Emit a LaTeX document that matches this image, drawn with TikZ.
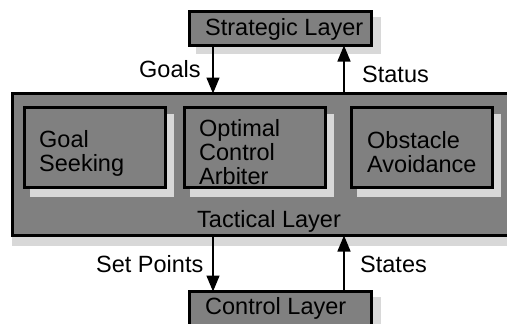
\documentclass[tikz,border=0pt]{standalone}
\usepackage{fontspec}
\setmainfont{Liberation Sans}
\usetikzlibrary{arrows.meta}
\definecolor{boxgray}{RGB}{128,128,128}
\definecolor{shadowgray}{RGB}{216,216,216}
\begin{document}
\begin{tikzpicture}[x=1pt,y=-1pt,
  box/.style={draw=black,line width=3pt,fill=boxgray,inner sep=0pt,outer sep=0pt},
  shade/.style={fill=shadowgray},
  txt/.style={font=\fontsize{23.5}{24}\selectfont,inner sep=0pt,anchor=base west,align=left},
  arr/.style={line width=1.5pt,-{Triangle[length=16pt,width=13pt]}}]
\useasboundingbox (0,0) rectangle (507,324);
% shadows
\fill[shade] (196,17) rectangle (381,54);
\fill[shade] (196,297) rectangle (381,334);
\fill[shade] (12,101) rectangle (545,246);
% layer boxes
\node[box,minimum width=182pt,minimum height=34pt] (strat) at (280.5,28.5) {};
\node[box,minimum width=182pt,minimum height=34pt] (ctrl) at (280.5,308.5) {};
\node[box,minimum width=527.5pt,minimum height=142pt] (tact) at (276.25,164.5) {};
% inner shadows
\fill[shade] (30,114) rectangle (174,197);
\fill[shade] (190,114) rectangle (334,197);
\fill[shade] (357,114) rectangle (501,197);
% inner boxes
\node[box,minimum width=141pt,minimum height=80pt] (goal) at (95,147.5) {};
\node[box,minimum width=141pt,minimum height=80pt] (arb) at (255,147.5) {};
\node[box,minimum width=141pt,minimum height=80pt] (obst) at (422,147.5) {};
% texts (base anchor = baseline of last line)
\node[txt] (tstrat) at (205,35) {Strategic Layer};
\node[txt] (tctrl) at (205,314) {Control Layer};
\node[txt] (ttact) at (197,227) {Tactical Layer};
\node[txt] (tgoal) at (39,171) {Goal\\Seeking};
\node[txt] (tarb) at (199,184) {Optimal\\Control\\Arbiter};
\node[txt] (tobst) at (367,172) {Obstacle\\Avoidance};
\node[txt] (lgoals) at (139,77) {Goals};
\node[txt] (lstatus) at (362,82) {Status};
\node[txt] (lset) at (96,272) {Set Points};
\node[txt] (lstates) at (360,272) {States};
% arrows
\coordinate (gx) at (213,0);
\coordinate (sx) at (344,0);
\draw[arr] (strat.south -| gx) -- (tact.north -| gx);
\draw[arr] (tact.north -| sx) -- (strat.south -| sx);
\draw[arr] (tact.south -| gx) -- (ctrl.north -| gx);
\draw[arr] (ctrl.north -| sx) -- (tact.south -| sx);
\end{tikzpicture}
\end{document}
